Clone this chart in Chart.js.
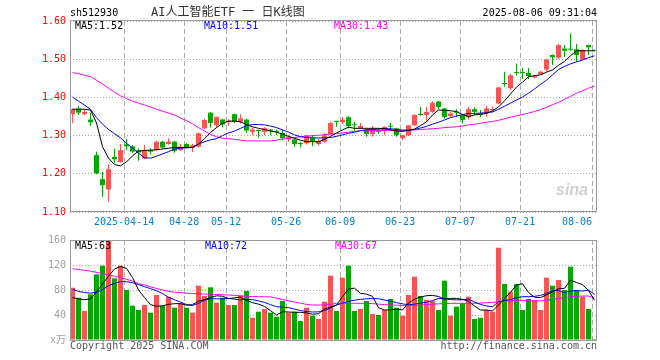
<!DOCTYPE html>
<html><head><meta charset="utf-8">
<script src="https://cdn.jsdelivr.net/npm/chart.js@4.4.1/dist/chart.umd.min.js"></script>
<style>
html,body{margin:0;padding:0;background:#fff;width:660px;height:360px;overflow:hidden;}
#wrap{position:relative;width:660px;height:360px;}
canvas{position:absolute;left:0;}
.t{position:absolute;font-family:"DejaVu Sans Mono","Noto Sans CJK SC",monospace;font-size:10px;line-height:12px;white-space:nowrap;}
</style></head><body>
<div id="wrap">
<canvas id="k" width="660" height="228" style="top:0"></canvas>
<canvas id="v" width="660" height="132" style="top:228px"></canvas>
<div class="t" id="code" style="left:70px;top:7px;color:#000"></div>
<div class="t" id="title" style="left:151px;top:5px;font-size:12px;line-height:14px;color:#333"></div>
<div class="t" id="time" style="right:63px;top:7px;color:#000"></div>
<div class="t" id="pm5" style="left:75px;top:20px;color:#000"></div>
<div class="t" id="pm10" style="left:204px;top:20px;color:#0000ff"></div>
<div class="t" id="pm30" style="left:334px;top:20px;color:#ff00ff"></div>
<div class="t" id="vm5" style="left:75px;top:240px;color:#000"></div>
<div class="t" id="vm10" style="left:205px;top:240px;color:#0000ff"></div>
<div class="t" id="vm30" style="left:335px;top:240px;color:#ff00ff"></div>
<div class="t" style="left:70px;top:340px;color:#555">Copyright 2025 SINA.COM</div>
<div class="t" style="right:63px;top:340px;color:#555">http://finance.sina.com.cn</div>
<div class="t" style="left:556px;top:181px;font-family:'Liberation Sans',Arial,sans-serif;font-style:italic;font-weight:bold;font-size:16px;line-height:18px;color:#cfcfcf">sina</div>
</div>
<script>
const stockCode = 'sh512930';
const chartTitle = 'AI人工智能ETF 一 日K线图';
const stampText = '2025-08-06 09:31:04';

const dates = ['03-31',
'04-01','04-02','04-03','04-07','04-08','04-09','04-10','04-11','04-14','04-15','04-16','04-17','04-18','04-21','04-22','04-23','04-24','04-25','04-28','04-29','04-30',
'05-06','05-07','05-08','05-09','05-12','05-13','05-14','05-15','05-16','05-19','05-20','05-21','05-22','05-23','05-26','05-27','05-28','05-29','05-30',
'06-03','06-04','06-05','06-06','06-09','06-10','06-11','06-12','06-13','06-16','06-17','06-18','06-19','06-20','06-23','06-24','06-25','06-26','06-27','06-30',
'07-01','07-02','07-03','07-04','07-07','07-08','07-09','07-10','07-11','07-14','07-15','07-16','07-17','07-18','07-21','07-22','07-23','07-24','07-25','07-28','07-29','07-30','07-31',
'08-01','08-04','08-05','08-06'];
const tickDates = ['04-14','04-28','05-12','05-26','06-09','06-23','07-07','07-21','08-06'];
const tickLabels = ['2025-04-14','04-28','05-12','05-26','06-09','06-23','07-07','07-21','08-06'];
const priceTicks = [1.10,1.20,1.30,1.40,1.50,1.60];
const volumeTicks = [0,40,80,120,160];

const open = [1.356,1.371,1.356,1.342,1.249,1.186,1.159,1.244,1.231,1.277,
1.272,1.262,1.240,1.262,1.262,1.284,1.278,1.284,1.262,1.278,
1.269,1.271,1.319,1.360,1.327,1.342,1.335,1.356,1.336,1.342,
1.310,1.314,1.310,1.316,1.311,1.307,1.290,1.290,1.279,1.280,
1.295,1.278,1.284,1.304,1.337,1.335,1.348,1.328,1.319,1.316,
1.304,1.313,1.313,1.324,1.319,1.293,1.301,1.327,1.355,1.354,
1.362,1.389,1.371,1.351,1.361,1.354,1.348,1.369,1.358,1.358,
1.367,1.384,1.436,1.424,1.466,1.466,1.464,1.452,1.461,1.473,
1.511,1.504,1.528,1.527,1.526,1.499,1.537,1.524];
const high = [1.371,1.377,1.369,1.360,1.258,1.205,1.225,1.266,1.278,1.291,
1.275,1.266,1.275,1.267,1.287,1.286,1.293,1.286,1.278,1.280,
1.278,1.308,1.344,1.362,1.350,1.344,1.343,1.358,1.356,1.344,
1.320,1.316,1.322,1.317,1.316,1.314,1.301,1.292,1.284,1.302,
1.301,1.291,1.306,1.336,1.339,1.349,1.351,1.336,1.333,1.318,
1.325,1.319,1.324,1.334,1.320,1.302,1.328,1.356,1.375,1.375,
1.389,1.391,1.373,1.362,1.369,1.357,1.375,1.374,1.367,1.377,
1.377,1.428,1.467,1.461,1.489,1.477,1.477,1.459,1.470,1.501,
1.512,1.540,1.537,1.567,1.540,1.526,1.538,1.525];
const low = [1.333,1.354,1.354,1.325,1.199,1.140,1.127,1.227,1.229,1.262,
1.255,1.234,1.238,1.250,1.260,1.267,1.276,1.255,1.260,1.267,
1.257,1.269,1.317,1.321,1.321,1.322,1.326,1.333,1.332,1.307,
1.301,1.295,1.301,1.301,1.301,1.288,1.284,1.271,1.269,1.277,
1.272,1.275,1.281,1.301,1.323,1.330,1.319,1.313,1.317,1.297,
1.297,1.304,1.301,1.313,1.297,1.288,1.299,1.325,1.352,1.339,
1.360,1.369,1.345,1.349,1.349,1.332,1.343,1.354,1.348,1.349,
1.361,1.382,1.428,1.420,1.458,1.448,1.448,1.450,1.459,1.467,
1.485,1.500,1.506,1.522,1.493,1.497,1.511,1.521];
const close = [1.369,1.360,1.362,1.335,1.201,1.170,1.212,1.238,1.262,1.272,
1.258,1.256,1.262,1.258,1.284,1.269,1.284,1.260,1.271,1.269,
1.275,1.306,1.341,1.333,1.349,1.329,1.339,1.336,1.345,1.313,
1.316,1.312,1.319,1.313,1.310,1.293,1.297,1.278,1.278,1.301,
1.286,1.286,1.301,1.333,1.336,1.342,1.325,1.327,1.325,1.304,
1.316,1.310,1.323,1.323,1.301,1.301,1.327,1.354,1.354,1.362,
1.386,1.375,1.349,1.358,1.360,1.341,1.369,1.362,1.354,1.371,
1.369,1.426,1.435,1.458,1.464,1.464,1.456,1.456,1.467,1.499,
1.505,1.537,1.522,1.525,1.511,1.524,1.531,1.522];

const ma5 = [1.369,1.369,1.369,1.367,1.333,1.271,1.241,1.224,1.221,1.231,
1.247,1.259,1.261,1.262,1.263,1.265,1.267,1.269,1.269,1.269,
1.269,1.278,1.292,1.308,1.321,1.332,1.338,1.338,1.336,1.329,
1.323,1.319,1.316,1.312,1.309,1.304,1.298,1.293,1.288,1.284,
1.284,1.284,1.290,1.298,1.307,1.315,1.322,1.319,1.319,1.319,
1.319,1.319,1.318,1.315,1.312,1.311,1.314,1.317,1.326,1.336,
1.354,1.367,1.366,1.365,1.363,1.355,1.350,1.354,1.356,1.358,
1.365,1.375,1.391,1.409,1.427,1.440,1.454,1.457,1.459,1.466,
1.472,1.484,1.494,1.509,1.522,1.522,1.522,1.522];
const ma10 = [1.401,1.390,1.380,1.369,1.347,1.330,1.316,1.305,1.294,1.280,
1.267,1.254,1.242,1.241,1.246,1.252,1.258,1.265,1.267,1.268,
1.269,1.278,1.284,1.289,1.292,1.300,1.307,1.312,1.319,1.326,
1.329,1.329,1.328,1.325,1.321,1.315,1.309,1.302,1.297,1.295,
1.294,1.294,1.294,1.295,1.298,1.302,1.306,1.309,1.313,1.315,
1.316,1.317,1.318,1.318,1.316,1.314,1.314,1.316,1.320,1.324,
1.330,1.335,1.341,1.347,1.351,1.355,1.358,1.358,1.359,1.360,
1.362,1.369,1.377,1.385,1.393,1.401,1.411,1.422,1.434,1.445,
1.459,1.473,1.481,1.488,1.493,1.498,1.504,1.509];
const ma30 = [1.465,1.462,1.458,1.454,1.445,1.435,1.424,1.414,1.404,1.397,
1.390,1.385,1.380,1.375,1.369,1.364,1.359,1.354,1.346,1.339,
1.331,1.321,1.312,1.303,1.297,1.293,1.292,1.290,1.288,1.286,
1.286,1.286,1.286,1.286,1.288,1.291,1.293,1.295,1.297,1.298,
1.300,1.301,1.302,1.304,1.305,1.307,1.309,1.311,1.313,1.313,
1.313,1.313,1.314,1.314,1.314,1.314,1.315,1.315,1.316,1.317,
1.318,1.319,1.321,1.322,1.323,1.325,1.328,1.330,1.332,1.335,
1.337,1.340,1.344,1.348,1.352,1.355,1.359,1.363,1.368,1.374,
1.381,1.387,1.395,1.403,1.411,1.417,1.424,1.430];

const volume = [83.7,67.7,46.4,73.1,105,118.9,162,98.7,118.9,80,
54.9,48,56,43.7,72,54.9,69.3,51.7,58.7,51.7,
43.7,86.9,70.4,84.3,59.7,67.7,56,56,70.9,78.4,
35.7,45.3,49.6,43.7,37.3,62.4,43.7,45.3,30.4,51.7,
38.9,33.6,61.3,102.9,46.4,99.7,118.9,46.4,49.6,62.4,
41.6,40,48,65.6,51.7,38.9,72,101.3,70.4,64,
62.4,48,94.9,38.9,53.3,58.7,69.3,33.6,35.7,48,
45.3,147.7,89.6,77.3,89.6,48,65.6,64,48,99.7,
86.9,96,80,117.3,80,69.3,49.6,1.6];
const vma5 = [68,65.6,64.6,65.6,76.8,89.6,101.9,113.6,117.6,114.7,
100,80,68,56.5,54.1,54.6,57.1,58.1,58.2,55.7,
56.5,62.2,64.5,68.2,70.7,70.1,66.2,67.5,68.5,63.4,
59.7,57.4,53.8,46.9,40,45.3,44.8,44.3,44.3,43.2,
41.3,42.1,49.6,52.8,56,69.3,81.6,83,74.6,73.4,
69.9,51.7,48,48.2,49.6,48,59.4,65.1,68.8,70.9,
71.4,69.6,65.6,66.6,66.6,65.1,61.9,54.4,48,48,
46.4,56,66.7,76.2,88,90,76,68.5,67.8,72.3,
77.1,81.9,82.7,96,92,88.5,79.2,63.6];
const vma10 = [81.1,77.8,76,75,76.5,80.5,86.9,90.7,93.3,93.3,
91.7,88.5,85.3,82.2,78.9,74.4,68.3,64.5,60.6,56.8,
55.2,58.7,63.5,66.1,65.9,65.9,66.6,65.3,64.2,65.1,
64.6,62.6,60.2,56.6,53.3,52.5,51.8,49.4,47.2,45.6,
44.8,45.1,47.2,51.2,56,58.9,61.9,63.7,65.1,65.9,
66.4,66.1,64,62.1,59.8,57.9,56.3,57.4,59,60.5,
63,66.6,65.9,64.8,64.2,64.5,65.6,60.6,57,54.4,
53.3,61.1,63.2,64.5,67.7,69.3,69.3,69.9,71.4,74.7,
79,79,75.8,78.4,79,78.4,79.8,72.8];
const vma30 = [114.1,112.8,111.5,110.1,108.2,106.2,104.3,101.9,99.5,97.3,
94.4,90.1,88,85,82.4,80,77.8,76.6,75.8,75,
74.4,73.9,73.4,73.1,72.8,72.3,72,71.4,70.7,69.9,
69.6,69.4,69.3,69,66.9,64.8,62.7,60.8,58.9,57,
56,56,56,57.1,58.7,58.7,58.7,58.7,58.7,58.7,
58.2,57.4,56.6,56,55.7,55.2,54.9,55.4,56,56.6,
57.3,57.8,58.4,58.7,58.7,58.7,58.7,58.7,58.9,59.7,
60.3,61.1,61.9,62.7,63.5,63.5,62.6,62.4,62.6,63.5,
64.8,66.4,68,69.4,69.9,70.4,70.4,67];

// ---------- build ----------
const UP = '#ff5252', DOWN = '#00a800';
const FONT = "'DejaVu Sans Mono', 'Noto Sans CJK SC', monospace";
const last = dates.length - 1;
const colors = dates.map((d, i) => close[i] >= open[i] ? UP : DOWN);
const tickIdx = tickDates.map(d => dates.indexOf(d));
const pts = arr => arr.map((v, i) => ({x: i, y: v}));

document.getElementById('code').textContent = stockCode;
document.getElementById('title').textContent = chartTitle;
document.getElementById('time').textContent = stampText;
document.getElementById('pm5').textContent = 'MA5:' + ma5[last].toFixed(2);
document.getElementById('pm10').textContent = 'MA10:' + ma10[last].toFixed(2);
document.getElementById('pm30').textContent = 'MA30:' + ma30[last].toFixed(2);
document.getElementById('vm5').textContent = 'MA5:' + Math.floor(vma5[last]);
document.getElementById('vm10').textContent = 'MA10:' + Math.floor(vma10[last]);
document.getElementById('vm30').textContent = 'MA30:' + Math.floor(vma30[last]);

function frame(dTop, dBottom) {
  return {
    id: 'frame',
    afterDraw(chart) {
      const a = chart.chartArea, c = chart.ctx;
      c.save();
      c.strokeStyle = '#9a9a9a';
      c.lineWidth = 1;
      const l = Math.round(a.left) + 0.5, t = Math.round(a.top) + dTop;
      const r = Math.round(a.right) - 1.5, b = Math.round(a.bottom) + dBottom;
      c.strokeRect(l, t, r - l, b - t);
      c.restore();
    }
  };
}

// the last date label sits left of its tick (right-aligned), as in the original
const tickText = (v, k) => k === tickLabels.length - 1
  ? tickLabels[k] + ' '.repeat(tickLabels[k].length) : tickLabels[k];

function xAxis(showLabels, h) {
  return {
    type: 'linear', min: -0.4167, max: last + 0.5833, offset: false,
    afterBuildTicks(s) { s.ticks = tickIdx.map(i => ({value: i - 0.4})); },
    afterFit(s) { s.height = h; },
    ticks: {display: showLabels, autoSkip: false, maxRotation: 0, minRotation: 0, padding: 4,
      color: '#0a80d0', font: {family: FONT, size: 10}, callback: tickText},
    grid: {color: '#ababab', lineWidth: 1, drawTicks: false, offset: false},
    border: {display: false, dash: [5, 3]}
  };
}

const lineDs = (arr, color) => ({type: 'line', data: pts(arr), borderColor: color, borderWidth: 1,
  pointRadius: 0, tension: 0, fill: false, order: 0, clip: 0});

const common = {
  responsive: false, animation: false, events: [],
  plugins: {legend: {display: false}, tooltip: {enabled: false}}
};

new Chart(document.getElementById('k'), {
  type: 'bar',
  data: {datasets: [
    lineDs(ma5, '#000000'), lineDs(ma10, '#0000ff'), lineDs(ma30, '#ff00ff'),
    {label: 'wick', data: dates.map((d, i) => ({x: i, y: [low[i], high[i]]})), backgroundColor: colors,
      barThickness: 1, grouped: false, order: 2, borderWidth: 0, inflateAmount: 0, minBarLength: 1, clip: 0},
    {label: 'body', data: dates.map((d, i) => ({x: i, y: [open[i], close[i]]})), backgroundColor: colors,
      barThickness: 5, grouped: false, order: 1, borderWidth: 0, inflateAmount: 0, minBarLength: 1, clip: 0}
  ]},
  options: Object.assign({}, common, {
    layout: {padding: {top: 21, right: 62, left: 0, bottom: 0}},
    scales: {
      x: xAxis(true, 16),
      y: {type: 'linear', min: priceTicks[0], max: priceTicks[priceTicks.length - 1],
        afterBuildTicks(s) { s.ticks = priceTicks.map(v => ({value: v})); },
        afterFit(s) { s.width = 70; },
        ticks: {color: '#ff0000', padding: 4, font: {family: FONT, size: 10}, callback: v => v.toFixed(2)},
        grid: {color: '#a8a8a8', drawTicks: false},
        border: {display: false, dash: [1, 2]}}
    }
  }),
  plugins: [frame(-0.5, -0.5)]
});

new Chart(document.getElementById('v'), {
  type: 'bar',
  data: {datasets: [
    lineDs(vma5, '#000000'), lineDs(vma10, '#0000ff'), lineDs(vma30, '#ff00ff'),
    {label: 'vol', data: pts(volume), backgroundColor: colors, barThickness: 5, grouped: false,
      order: 1, borderWidth: 0, inflateAmount: 0, clip: 0}
  ]},
  options: Object.assign({}, common, {
    layout: {padding: {top: 12, right: 62, left: 0, bottom: 0}},
    scales: {
      x: xAxis(false, 20),
      y: {type: 'linear', min: volumeTicks[0], max: volumeTicks[volumeTicks.length - 1],
        afterBuildTicks(s) { s.ticks = volumeTicks.map(v => ({value: v})); },
        afterFit(s) { s.width = 70; },
        ticks: {color: '#a0a0a0', padding: 4, font: {family: FONT, size: 10},
          callback: v => v === 0 ? 'x万' : String(v)},
        grid: {color: '#a8a8a8', drawTicks: false},
        border: {display: false, dash: [1, 2]}}
    }
  }),
  plugins: [frame(0.5, 0.5)]
});
</script>
</body></html>
